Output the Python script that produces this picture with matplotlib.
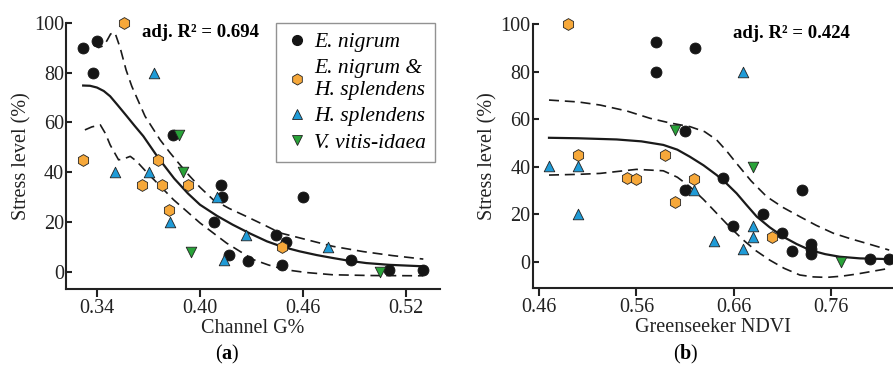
import matplotlib
matplotlib.use("Agg")
import matplotlib.pyplot as plt
from matplotlib.lines import Line2D

plt.rcParams['font.family'] = ['Liberation Serif', 'DejaVu Serif']
plt.rcParams['mathtext.fontset'] = 'custom'
plt.rcParams['mathtext.rm'] = 'Liberation Serif'
plt.rcParams['mathtext.bf'] = 'Liberation Serif:bold'
plt.rcParams['mathtext.it'] = 'Liberation Serif:italic'

# ---- panel (a): Channel G% ----
a_nig_x = [0.332, 0.340, 0.3375, 0.384, 0.408, 0.412, 0.413, 0.417, 0.428, 0.444, 0.450, 0.448, 0.460, 0.4877, 0.510, 0.530]
a_nig_y = [90, 92.6, 80, 55, 20, 35, 30, 7, 4.5, 15, 12, 3, 30, 5, 1, 1]
a_mix_x = [0.3555, 0.332, 0.3758, 0.366, 0.3778, 0.393, 0.382, 0.448]
a_mix_y = [100, 45, 45, 35, 35, 35, 25, 10]
a_hyl_x = [0.373, 0.3506, 0.3705, 0.3826, 0.410, 0.414, 0.427, 0.4745]
a_hyl_y = [80, 40, 40, 20, 30, 5, 15, 10]
a_vac_x = [0.388, 0.390, 0.3948, 0.5045]
a_vac_y = [55, 40, 8, 0]

a_fit_x = [0.332, 0.336, 0.340, 0.344, 0.3477, 0.352, 0.3574, 0.362, 0.367, 0.3755, 0.385, 0.393, 0.400, 0.410,
           0.419, 0.429, 0.439, 0.448, 0.458, 0.468, 0.4776, 0.487, 0.4968, 0.510, 0.520, 0.530]
a_fit_y = [74.8, 74.7, 74.0, 72.6, 70.5, 67.0, 62.5, 58.6, 54.5, 46.0, 37.5, 31.5, 27.0, 22.5,
           19.0, 15.5, 12.3, 10.1, 8.3, 6.8, 5.6, 4.5, 3.6, 2.9, 2.6, 2.3]
a_up_x = [0.338, 0.341, 0.344, 0.346, 0.348, 0.3505, 0.3535, 0.357, 0.3603, 0.368, 0.3768, 0.3826, 0.392,
          0.400, 0.4077, 0.417, 0.427, 0.437, 0.4466, 0.462, 0.4774, 0.495, 0.512, 0.530]
a_up_y = [91, 90, 90.8, 93, 95.5, 96, 90, 81, 74.5, 62.5, 53, 47.8, 40,
          34, 29, 25.5, 22.3, 19, 15.7, 13, 10.3, 8.2, 6.6, 5.2]
a_lo_x = [0.333, 0.337, 0.342, 0.345, 0.3477, 0.3526, 0.356, 0.3594, 0.363, 0.369, 0.3846, 0.400, 0.4155,
          0.431, 0.440, 0.450, 0.462, 0.4774, 0.500, 0.530]
a_lo_y = [57, 58.2, 59, 55.5, 51, 45, 45.5, 46.4, 44.5, 40, 29, 19.7, 11.6,
          5, 2.8, 0.9, -0.2, -1.1, -1.4, -1.5]

# ---- panel (b): Greenseeker NDVI ----
b_nig_x = [0.58, 0.58, 0.62, 0.61, 0.61, 0.649, 0.6596, 0.69, 0.71, 0.7197, 0.73, 0.74, 0.74, 0.74, 0.8002, 0.82]
b_nig_y = [92.7, 80, 90.1, 55, 30.2, 35.1, 15.2, 20.1, 12.2, 4.6, 30.2, 7.3, 5.2, 3.1, 1.1, 1.1]
b_mix_x = [0.4899, 0.50, 0.55, 0.56, 0.5896, 0.6195, 0.60, 0.6997]
b_mix_y = [100, 45, 35.1, 35, 45, 35, 25, 10.3]
b_hyl_x = [0.47, 0.50, 0.50, 0.6195, 0.64, 0.67, 0.67, 0.6795, 0.6795]
b_hyl_y = [40.4, 40.4, 20.1, 30.2, 8.9, 80, 5.2, 15.2, 10.3]
b_vac_x = [0.60, 0.6795, 0.77]
b_vac_y = [55.5, 40, 0]

b_fit_x = [0.47, 0.50, 0.5396, 0.565, 0.5876, 0.602, 0.615, 0.629, 0.6425, 0.653, 0.663, 0.673, 0.6837,
           0.697, 0.711, 0.725, 0.7385, 0.754, 0.769, 0.790, 0.820]
b_fit_y = [52.2, 52.0, 51.5, 50.7, 49.2, 47.2, 44.2, 40.6, 36.5, 32.8, 28.8, 24.0, 19.0,
           14.5, 10.5, 7.4, 4.9, 3.2, 2.1, 1.4, 1.1]
b_up_x = [0.47, 0.50, 0.5225, 0.55, 0.574, 0.595, 0.615, 0.630, 0.6425, 0.653, 0.663, 0.678, 0.694,
          0.711, 0.728, 0.745, 0.7625, 0.78, 0.797, 0.820]
b_up_y = [68.1, 67.3, 66, 63.5, 60.4, 58.4, 56.9, 54.8, 51.3, 46.5, 41.4, 34, 27.4,
          22.8, 19, 15.3, 12, 9.7, 7.7, 4.9]
b_lo_x = [0.47, 0.50, 0.5225, 0.56, 0.5876, 0.602, 0.615, 0.629, 0.6425, 0.656, 0.67, 0.683, 0.697,
          0.712, 0.728, 0.742, 0.7556, 0.771, 0.7866, 0.820]
b_lo_y = [36.5, 36.8, 37.2, 38.9, 38.3, 35.6, 31.6, 26.2, 20.4, 14.6, 9.1, 4.6, 0.7,
          -2.8, -5.6, -6.4, -6.6, -6.1, -5.2, -2.8]

c_nig = "#151515"
c_mix = "#f6a83a"
c_hyl = "#1f9bd7"
c_vac = "#29a339"

fig = plt.figure(figsize=(8.93, 3.69), dpi=100)
axa = fig.add_axes([0.0739, 0.2168, 0.4188, 0.7217])
axb = fig.add_axes([0.5965, 0.2187, 0.4035, 0.7154])

panels = [
    (axa, a_nig_x, a_nig_y, a_mix_x, a_mix_y, a_hyl_x, a_hyl_y, a_vac_x, a_vac_y,
     a_fit_x, a_fit_y, a_up_x, a_up_y, a_lo_x, a_lo_y),
    (axb, b_nig_x, b_nig_y, b_mix_x, b_mix_y, b_hyl_x, b_hyl_y, b_vac_x, b_vac_y,
     b_fit_x, b_fit_y, b_up_x, b_up_y, b_lo_x, b_lo_y),
]

for (ax, nx, ny, mx, my, hx, hy, vx, vy, fx, fy, ux, uy, lx, ly) in panels:
    ax.plot(fx, fy, color="#1a1a1a", lw=1.6, zorder=2)
    ax.plot(ux, uy, color="#1a1a1a", lw=1.2, dashes=(6, 3.5), zorder=2)
    ax.plot(lx, ly, color="#1a1a1a", lw=1.2, dashes=(6, 3.5), zorder=2)
    ax.scatter(nx, ny, s=62, marker="o", color=c_nig, edgecolors=c_nig, lw=0.6, zorder=3, clip_on=False)
    ax.scatter(mx, my, s=72, marker="h", color=c_mix, edgecolors="#222", lw=0.6, zorder=3, clip_on=False)
    ax.scatter(hx, hy, s=58, marker="^", color=c_hyl, edgecolors="#222", lw=0.6, zorder=3, clip_on=False)
    ax.scatter(vx, vy, s=58, marker="v", color=c_vac, edgecolors="#222", lw=0.6, zorder=3, clip_on=False)

    for side in ["top", "right"]:
        ax.spines[side].set_visible(False)
    for side in ["left", "bottom"]:
        ax.spines[side].set_linewidth(1.5)
        ax.spines[side].set_color("#222222")
    ax.set_yticks([0, 20, 40, 60, 80, 100])
    ax.tick_params(axis="y", direction="in", length=4, width=1.5, pad=1.5, labelsize=14.5, colors="#222222")
    ax.tick_params(axis="x", direction="out", length=6, width=1.5, pad=1, labelsize=14.5, colors="#222222")
    ax.set_ylabel("Stress level (%)", fontsize=14.5, color="#222222", labelpad=2)

axa.set_xlim(0.322, 0.5397)
axa.set_ylim(-6.8, 100)
axa.set_xticks([0.34, 0.40, 0.46, 0.52])
axa.set_xticklabels(["0.34", "0.40", "0.46", "0.52"])
axa.set_xlabel("Channel G%", fontsize=14.5, color="#222222", labelpad=1)
axa.text(0.3663, 96, "adj. R² = 0.694", fontsize=13.5, fontweight="bold", va="center", ha="left")

axb.set_xlim(0.4532, 0.8239)
axb.set_ylim(-11.2, 100)
axb.set_xticks([0.46, 0.56, 0.66, 0.76])
axb.set_xticklabels(["0.46", "0.56", "0.66", "0.76"])
axb.set_xlabel("Greenseeker NDVI", fontsize=14.5, color="#222222", labelpad=1)
axb.text(0.6596, 96.2, "adj. R² = 0.424", fontsize=13.5, fontweight="bold", va="center", ha="left",
         bbox=dict(facecolor="white", edgecolor="none", pad=1))

handles = [
    Line2D([], [], ls="none", marker="o", ms=7, color=c_nig, mec=c_nig),
    Line2D([], [], ls="none", marker="h", ms=8, color=c_mix, mec="#222", mew=0.6),
    Line2D([], [], ls="none", marker="^", ms=7, color=c_hyl, mec="#222", mew=0.6),
    Line2D([], [], ls="none", marker="v", ms=7, color=c_vac, mec="#222", mew=0.6),
]
labels = ["E. nigrum", "E. nigrum &\nH. splendens", "H. splendens", "V. vitis-idaea"]
leg = axa.legend(handles, labels, loc="upper right", bbox_to_anchor=(0.988, 1.0),
                 prop=dict(family="Liberation Serif", style="italic", size=15.5),
                 frameon=True, fancybox=False, handlelength=1.0, handletextpad=0.3,
                 labelspacing=0.3, borderpad=0.45, borderaxespad=0.0)
leg.get_frame().set_edgecolor("#777777")
leg.get_frame().set_linewidth(1.0)

fig.text(0.255, 0.04, r"($\mathbf{a}$)", fontsize=14.5, ha="center", va="center")
fig.text(0.768, 0.04, r"($\mathbf{b}$)", fontsize=14.5, ha="center", va="center")

fig.savefig("out.png", dpi=100)
